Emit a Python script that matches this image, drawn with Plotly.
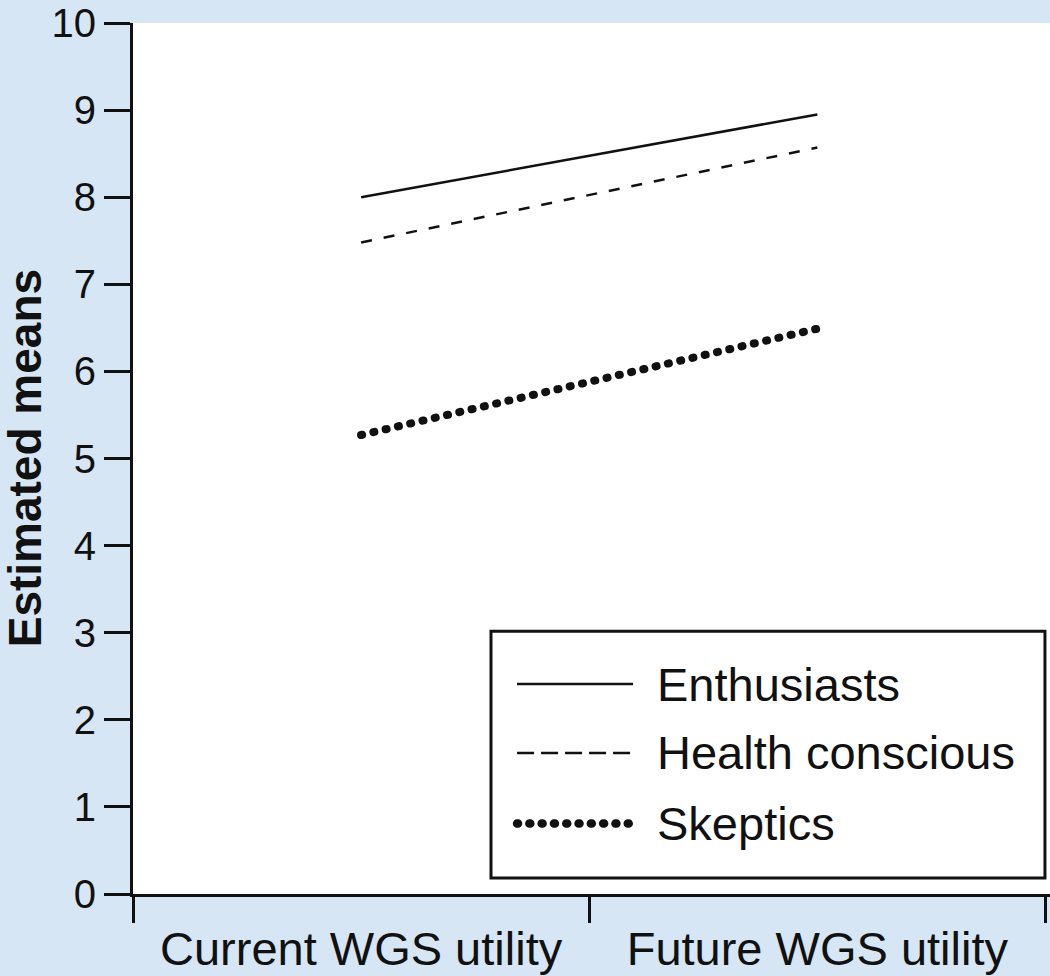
import plotly.graph_objects as go

categories = ["Current WGS utility", "Future WGS utility"]
series_names = ["Enthusiasts", "Health conscious", "Skeptics"]
enthusiasts = [8.0, 8.95]
health_conscious = [7.48, 8.57]
skeptics = [5.27, 6.49]
y_ticks = list(range(0, 11))

FONT = "Liberation Sans, Arial, sans-serif"
INK = "#111111"

styles = [
    dict(color=INK, width=2.5, dash="solid"),
    dict(color=INK, width=2.5, dash="11px,12px"),
    dict(color=INK, width=8, dash="1px,11.6px"),
]

fig = go.Figure()
for name, vals, st in zip(series_names, [enthusiasts, health_conscious, skeptics], styles):
    fig.add_trace(go.Scatter(
        x=categories,
        y=vals,
        mode="lines",
        name=name,
        line=st,
        showlegend=False,
    ))

# hand-drawn legend box, to mimic the long sample lines of the original
fig.add_shape(type="rect", xref="paper", yref="y",
              x0=0.3904, x1=0.9945, y0=0.183, y1=3.017,
              line=dict(color=INK, width=3), fillcolor="white", layer="above")
legend_y = [2.41, 1.62, 0.81]
legend_dash = ["solid", "17px,7px", "1px,11.3px"]
legend_w = [2.5, 2.5, 8.5]
for name, ly, dsh, w in zip(series_names, legend_y, legend_dash, legend_w):
    fig.add_shape(type="line", xref="paper", yref="y",
                  x0=0.4188, x1=0.5453, y0=ly, y1=ly,
                  line=dict(color=INK, width=w, dash=dsh), layer="above")
    fig.add_annotation(xref="paper", yref="y", x=0.5692, y=ly,
                       text=name, showarrow=False, xanchor="left", yanchor="middle",
                       font=dict(family=FONT, size=47, color=INK))

# y title as annotation so it can sit closer to the left edge
fig.add_annotation(xref="paper", yref="paper", x=-0.118, y=0.5,
                   text="<b>Estimated means</b>", textangle=-90, showarrow=False,
                   xanchor="center", yanchor="middle",
                   font=dict(family=FONT, size=46, color=INK))

fig.update_xaxes(
    type="category",
    range=[-0.5, 1.51],
    tickson="boundaries",
    ticks="outside",
    ticklen=26,
    tickwidth=3,
    tickcolor=INK,
    showline=True,
    linecolor=INK,
    linewidth=3,
    showgrid=False,
    zeroline=False,
    automargin=False,
    ticklabelstandoff=12,
    tickfont=dict(family=FONT, size=47, color=INK),
)
fig.update_yaxes(
    range=[0, 10],
    tickvals=y_ticks,
    ticks="outside",
    ticklen=26,
    tickwidth=3,
    tickcolor=INK,
    showline=True,
    linecolor=INK,
    linewidth=3,
    showgrid=False,
    zeroline=False,
    automargin=False,
    ticklabeloverflow="allow",
    tickfont=dict(family=FONT, size=40, color=INK),
)

fig.update_layout(
    width=1050,
    height=976,
    paper_bgcolor="#D6E6F5",
    plot_bgcolor="white",
    margin=dict(l=133, r=0, t=23, b=82),
    showlegend=False,
)

# round caps turn the short dashes into dots
post = """
document.body.style.margin='0px';
var gd = document.getElementById('{plot_id}');
function roundDots() {
  gd.querySelectorAll('path').forEach(function (p) {
    if ((p.style.strokeDasharray || '').indexOf('1px') === 0) {
      p.style.strokeLinecap = 'round';
    }
  });
}
roundDots();
gd.on('plotly_afterplot', roundDots);
setTimeout(roundDots, 50);
"""

fig.write_html("out.html", config={"displayModeBar": False}, post_script=post)
